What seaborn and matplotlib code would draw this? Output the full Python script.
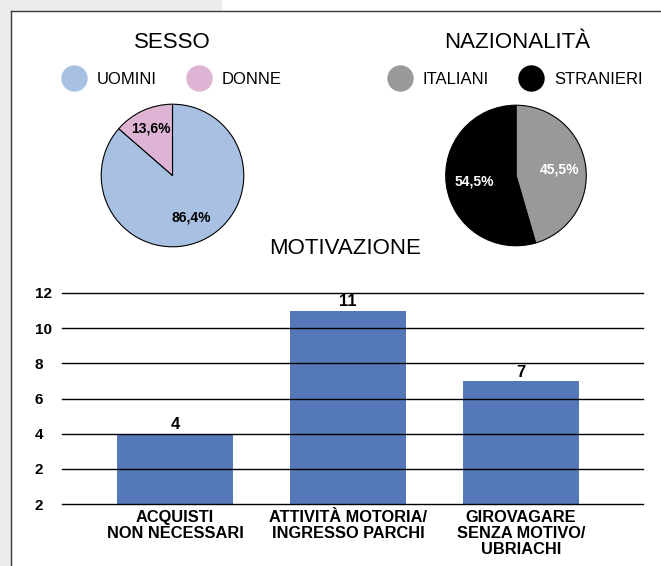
##################################################################
# Set up environment and define variables
##################################################################
import numpy as np
import pandas as pd
import matplotlib
matplotlib.use("Agg")
import matplotlib.pyplot as plt
import seaborn as sns
from matplotlib import font_manager
from matplotlib.patches import Rectangle
from matplotlib.lines import Line2D

# Pie data
sesso_labels = ['UOMINI', 'DONNE']
sesso_values = [86.4, 13.6]
sesso_colors = ['#a8c1e3', '#ddb4d3']

naz_labels = ['ITALIANI', 'STRANIERI']
naz_values = [45.5, 54.5]
naz_colors = ['#999999', '#000000']

# Bar data
motivi = ['ACQUISTI\nNON NECESSARI', 'ATTIVITÀ MOTORIA/\nINGRESSO PARCHI',
          'GIROVAGARE\nSENZA MOTIVO/\nUBRIACHI']
motivi_values = [4, 11, 7]
ytick_values = [0, 2, 4, 6, 8, 10, 12]
ytick_labels = ['2', '2', '4', '6', '8', '10', '12']
bar_color = '#5579b8'

# Fonts (no narrow face installed normally, so fall back to Liberation Sans)
names = set(f.name for f in font_manager.fontManager.ttflist)
narrow = 'Liberation Sans Narrow' if 'Liberation Sans Narrow' in names else 'Liberation Sans'
narrow_size = 13 if narrow == 'Liberation Sans Narrow' else 11.8
plt.rcParams['font.family'] = ['Liberation Sans', 'DejaVu Sans']

W, H = 661, 566
fig = plt.figure(figsize=(W / 100, H / 100), dpi=100)
fig.patch.set_facecolor('white')

def fx(px):
    return px / W

def fy(py):
    return 1 - py / H

# Grey page background and frame
fig.patches.append(Rectangle((0, 0), fx(11), 1, transform=fig.transFigure,
                             color='#ebeceb', zorder=0))
fig.patches.append(Rectangle((0, fy(11)), fx(221), 11 / H, transform=fig.transFigure,
                             color='#ebeceb', zorder=0))
fig.lines.append(Line2D([fx(11), fx(11)], [0, fy(11)], transform=fig.transFigure,
                        color='#3a3a3a', lw=1.0))
fig.lines.append(Line2D([fx(11), 1], [fy(11), fy(11)], transform=fig.transFigure,
                        color='#3a3a3a', lw=1.0))

##################################################################
# Pies
##################################################################
def draw_pie(cx, cy, r, values, colors, txt_color, dists):
    ax = fig.add_axes([fx(cx - r), fy(cy + r), 2 * r / W, 2 * r / H])
    wedges, _ = ax.pie(values, colors=colors, startangle=90, counterclock=False,
                       wedgeprops={'edgecolor': 'black', 'linewidth': 0.8})
    start = 90
    for w, v, d in zip(wedges, values, dists):
        mid = np.deg2rad(start - v * 3.6 / 2)
        start -= v * 3.6
        ax.text(d * np.cos(mid), d * np.sin(mid), '{:.1f}%'.format(v).replace('.', ','),
                ha='center', va='center', fontsize=10, fontweight='bold', color=txt_color)
    ax.set_xlim(-1.01, 1.01)
    ax.set_ylim(-1.01, 1.01)
    ax.set_aspect('auto')
    return ax

draw_pie(172.5, 175.5, 72, sesso_values, sesso_colors, 'black', [0.64, 0.72])
draw_pie(516, 175.5, 71, naz_values, naz_colors, 'white', [0.62, 0.6])

# Titles
fig.text(fx(172.5), fy(42), 'SESSO', ha='center', va='center', fontsize=16)
fig.text(fx(517), fy(42), 'NAZIONALITÀ', ha='center', va='center', fontsize=16)
fig.text(fx(345), fy(248), 'MOTIVAZIONE', ha='center', va='center', fontsize=16)

# Legends
def draw_legend(labels, colors, cx):
    handles = [Line2D([], [], ls='', marker='o', markersize=18, color=c) for c in colors]
    fig.legend(handles, labels, loc='center', bbox_to_anchor=(fx(cx), fy(79)),
               bbox_transform=fig.transFigure, ncol=2, frameon=False, fontsize=12,
               handlelength=1.5, handletextpad=0.6, columnspacing=1.8,
               borderpad=0, borderaxespad=0)

draw_legend(sesso_labels, sesso_colors, 171.5)
draw_legend(naz_labels, naz_colors, 515)

##################################################################
# Bars
##################################################################
ax = fig.add_axes([fx(62), fy(504), fx(643) - fx(62), (504 - 293) / H])
df = pd.DataFrame({'motivo': motivi, 'valore': motivi_values})
sns.barplot(data=df, x='motivo', y='valore', color=bar_color, width=0.665,
            saturation=1, ax=ax)
ax.set_xlim(-0.653, 2.705)
ax.set_ylim(0, 12)
ax.set_yticks(ytick_values)
ax.set_yticklabels(ytick_labels, fontsize=11, fontweight='bold', ha='left')
ax.tick_params(axis='y', length=0, pad=19.5)
ax.tick_params(axis='x', length=0, pad=4)
for lab in ax.get_xticklabels():
    lab.set_fontfamily(narrow)
    lab.set_fontweight('bold')
    lab.set_fontsize(narrow_size)
    lab.set_linespacing(1.12)
ax.set_xlabel('')
ax.set_ylabel('')
ax.yaxis.grid(True, color='black', lw=1.0)
ax.set_axisbelow(False)
for gl in ax.get_ygridlines():
    gl.set_clip_on(False)
for s in ax.spines.values():
    s.set_visible(False)
ax.set_facecolor('none')
ax.bar_label(ax.containers[0], fontsize=12, fontweight='bold', padding=1, family=narrow)

plt.savefig('out.png', dpi=100)
